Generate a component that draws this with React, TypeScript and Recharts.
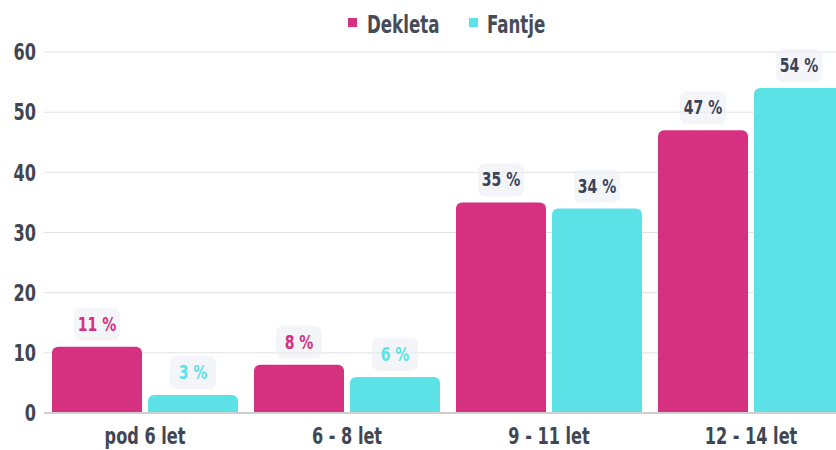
import React from 'react';
import { BarChart, Bar, XAxis, YAxis, CartesianGrid, LabelList } from 'recharts';

const categories = ['pod 6 let', '6 - 8 let', '9 - 11 let', '12 - 14 let'];
const dekleta = [11, 8, 35, 47];
const fantje = [3, 6, 34, 54];
const yTicks = [0, 10, 20, 30, 40, 50, 60];

const PINK = '#d63180';
const CYAN = '#5ce1e6';
const DARK = '#3b4159';
const TICK = '#414653';
const FONT = '"DejaVu Sans Condensed", "Liberation Sans Narrow", "Noto Sans", sans-serif';
const SX = 0.78;

const data = categories.map((c, i) => ({ name: c, dekleta: dekleta[i], fantje: fantje[i] }));

const makeLabel = (color: string) => (props: any) => {
  const { x, y, width, value } = props;
  const cx = x + width / 2;
  const bw = 46;
  const bh = 33;
  const top = y - 6 - bh;
  const fill = value < 20 ? color : DARK;
  return (
    <g>
      <rect x={cx - bw / 2} y={top} width={bw} height={bh} rx={7} ry={7} fill="rgba(236,239,243,0.6)" />
      <g transform={`translate(${cx},${top + bh / 2 + 1})`}>
        <text transform={`scale(${SX},1)`} x={0} y={0} textAnchor="middle" dominantBaseline="middle" fill={fill}
          style={{ fontFamily: FONT, fontWeight: 700, fontSize: 20 }}>
          {`${value} %`}
        </text>
      </g>
    </g>
  );
};

const XTick = (props: any) => {
  const { x, y, payload } = props;
  return (
    <g transform={`translate(${x},${y})`}>
      <text transform={`scale(${SX},1)`} x={0} y={0} dy="0.72em" textAnchor="middle" fill={TICK}
        style={{ fontFamily: FONT, fontWeight: 700, fontSize: 23 }}>
        {payload.value}
      </text>
    </g>
  );
};

const YTick = (props: any) => {
  const { x, y, payload } = props;
  return (
    <g transform={`translate(${x},${y})`}>
      <text transform={`scale(${SX},1)`} x={0} y={0} dy="0.36em" textAnchor="end" fill={TICK}
        style={{ fontFamily: FONT, fontWeight: 700, fontSize: 23 }}>
        {payload.value}
      </text>
    </g>
  );
};

const legendText: React.CSSProperties = {
  position: 'absolute', top: 12, fontFamily: FONT, fontWeight: 700, fontSize: 25, lineHeight: '25px',
  color: '#474b59', transform: 'scaleX(0.74)', transformOrigin: 'left top', whiteSpace: 'nowrap',
};

export default function App() {
  return (
    <div style={{ position: 'fixed', top: 0, left: 0, width: 836, height: 450, overflow: 'hidden', background: '#fff' }}>
      <span style={{ position: 'absolute', left: 348, top: 18, width: 9, height: 9, background: PINK }} />
      <span style={{ ...legendText, left: 367 }}>Dekleta</span>
      <span style={{ position: 'absolute', left: 469, top: 18, width: 9, height: 9, background: CYAN }} />
      <span style={{ ...legendText, left: 487 }}>Fantje</span>
      <BarChart width={860} height={450} data={data} margin={{ top: 52, right: 8, bottom: 0, left: 0 }}
        barCategoryGap={8} barGap={6}>
        <CartesianGrid vertical={false} stroke="#e2e2e2" />
        <XAxis dataKey="name" height={37} tickLine={false} axisLine={{ stroke: '#cfcfcf', strokeWidth: 2 }}
          tick={<XTick />} tickMargin={8} interval={0} />
        <YAxis width={44} domain={[0, 60]} ticks={yTicks} tickLine={false} axisLine={false} tick={<YTick />} interval={0} />
        <Bar dataKey="dekleta" fill={PINK} radius={[6, 6, 0, 0]} isAnimationActive={false}>
          <LabelList dataKey="dekleta" content={makeLabel(PINK)} />
        </Bar>
        <Bar dataKey="fantje" fill={CYAN} radius={[6, 6, 0, 0]} isAnimationActive={false}>
          <LabelList dataKey="fantje" content={makeLabel(CYAN)} />
        </Bar>
      </BarChart>
    </div>
  );
}
